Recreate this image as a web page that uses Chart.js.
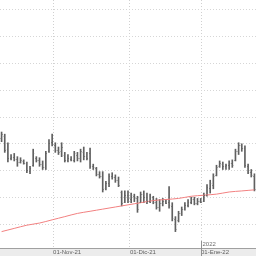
<!DOCTYPE html>
<html>
<head>
<meta charset="utf-8">
<script src="https://cdn.jsdelivr.net/npm/chart.js@4/dist/chart.umd.min.js"></script>
<style>
  html, body { margin: 0; padding: 0; background: #fff; }
  canvas { display: block; }
</style>
</head>
<body>
<canvas id="ohlcCanvas" width="256" height="256"></canvas>
<script>
// daily bars, oldest first (one entry per session)
const highs = [9.86, 9.84, 9.76, 9.65, 9.66, 9.63, 9.62, 9.60, 9.58, 9.54,
  9.70, 9.63, 9.62, 9.59, 9.68, 9.79, 9.84, 9.76, 9.72, 9.76,
  9.67, 9.65, 9.63, 9.68, 9.67, 9.70, 9.72, 9.67, 9.71, 9.56,
  9.53, 9.49, 9.49, 9.40, 9.47, 9.48, 9.46, 9.44, 9.31, 9.31,
  9.31, 9.29, 9.28, 9.26, 9.30, 9.31, 9.29, 9.28, 9.26, 9.24,
  9.23, 9.24, 9.23, 9.35, 9.20, 9.07, 9.12, 9.16, 9.20, 9.23,
  9.25, 9.25, 9.24, 9.24, 9.29, 9.37, 9.41, 9.47, 9.55, 9.59,
  9.58, 9.56, 9.59, 9.60, 9.70, 9.76, 9.75, 9.73, 9.56, 9.51, 9.47];
const lows = [9.77, 9.67, 9.58, 9.60, 9.59, 9.54, 9.57, 9.56, 9.48, 9.47,
  9.54, 9.58, 9.54, 9.51, 9.51, 9.67, 9.73, 9.67, 9.65, 9.63,
  9.58, 9.58, 9.59, 9.58, 9.59, 9.58, 9.60, 9.60, 9.52, 9.51,
  9.45, 9.43, 9.30, 9.32, 9.35, 9.42, 9.39, 9.35, 9.17, 9.20,
  9.20, 9.20, 9.21, 9.11, 9.20, 9.20, 9.19, 9.20, 9.19, 9.14,
  9.12, 9.17, 9.19, 9.15, 9.03, 8.93, 9.02, 9.08, 9.13, 9.16,
  9.19, 9.18, 9.18, 9.20, 9.21, 9.26, 9.29, 9.33, 9.45, 9.53,
  9.51, 9.51, 9.51, 9.53, 9.59, 9.65, 9.68, 9.53, 9.47, 9.44, 9.31];
const opens = [9.80, 9.82, 9.70, 9.62, 9.63, 9.61, 9.58, 9.59, 9.57, 9.50,
  9.55, 9.62, 9.60, 9.56, 9.53, 9.68, 9.77, 9.74, 9.69, 9.68,
  9.65, 9.60, 9.61, 9.60, 9.65, 9.62, 9.67, 9.64, 9.66, 9.54,
  9.52, 9.47, 9.45, 9.34, 9.38, 9.45, 9.44, 9.41, 9.30, 9.21,
  9.27, 9.23, 9.26, 9.24, 9.21, 9.28, 9.25, 9.22, 9.25, 9.21,
  9.16, 9.20, 9.22, 9.21, 9.17, 9.05, 9.04, 9.10, 9.14, 9.18,
  9.21, 9.23, 9.20, 9.22, 9.22, 9.27, 9.34, 9.37, 9.46, 9.54,
  9.56, 9.54, 9.55, 9.57, 9.60, 9.68, 9.74, 9.71, 9.54, 9.49, 9.45];
const closes = [9.84, 9.69, 9.62, 9.63, 9.61, 9.58, 9.60, 9.57, 9.51, 9.52,
  9.66, 9.60, 9.56, 9.53, 9.66, 9.76, 9.75, 9.69, 9.67, 9.72,
  9.60, 9.62, 9.60, 9.66, 9.62, 9.68, 9.64, 9.62, 9.54, 9.53,
  9.47, 9.45, 9.33, 9.38, 9.45, 9.44, 9.41, 9.37, 9.20, 9.27,
  9.23, 9.27, 9.24, 9.14, 9.28, 9.25, 9.22, 9.25, 9.21, 9.16,
  9.20, 9.22, 9.20, 9.18, 9.06, 8.95, 9.10, 9.14, 9.18, 9.21,
  9.23, 9.20, 9.22, 9.21, 9.27, 9.35, 9.38, 9.45, 9.53, 9.57,
  9.54, 9.55, 9.57, 9.55, 9.68, 9.74, 9.71, 9.55, 9.49, 9.46, 9.33];

// moving average (red), read every 4th session
const maSessions = [0, 4, 8, 12, 16, 20, 24, 28, 32, 36, 40, 44, 48, 52, 56, 60, 64, 68, 72, 76, 80];
const maValues = [8.93, 8.96, 8.99, 9.01, 9.04, 9.07, 9.10, 9.12, 9.14, 9.16, 9.18,
  9.20, 9.22, 9.23, 9.24, 9.26, 9.27, 9.28, 9.30, 9.31, 9.32];

// month marks on the time axis (session position, text)
const monthTickPos = [16.3, 40.6, 63.1];
const monthTickLabels = ['01-Nov-21', '01-Dic-21', '01-Ene-22'];
const yearMark = {pos: 63.1, text: '2022'};

const priceGrid = [9.00, 9.25, 9.50, 9.75, 10.00, 10.25, 10.50, 10.75, 11.00];

const barData = highs.map((h, i) => ({x: i, y: [lows[i], h]}));
const maData = maSessions.map((s, i) => ({x: s, y: maValues[i]}));

// grey band under the time axis
const axisBand = {
  id: 'axisBand',
  beforeDraw(chart) {
    const ctx = chart.ctx;
    const area = chart.chartArea;
    ctx.save();
    ctx.fillStyle = '#ececec';
    ctx.fillRect(0, area.bottom, chart.width, chart.height - area.bottom);
    ctx.restore();
  }
};

// open tick to the left, close tick to the right of every bar
const ohlcTicks = {
  id: 'ohlcTicks',
  afterDatasetsDraw(chart) {
    const ctx = chart.ctx;
    const xs = chart.scales.x;
    const ys = chart.scales.y;
    ctx.save();
    ctx.strokeStyle = '#6a6a6a';
    ctx.lineWidth = 1;
    for (let i = 0; i < highs.length; i++) {
      const x = xs.getPixelForValue(i);
      const yo = Math.round(ys.getPixelForValue(opens[i])) + 0.5;
      const yc = Math.round(ys.getPixelForValue(closes[i])) + 0.5;
      ctx.beginPath();
      ctx.moveTo(x - 1, yo); ctx.lineTo(x, yo);
      ctx.moveTo(x, yc); ctx.lineTo(x + 1, yc);
      ctx.stroke();
    }
    ctx.restore();
  }
};

// year text sitting just above the axis, with its longer tick
const yearLabel = {
  id: 'yearLabel',
  afterDraw(chart) {
    const ctx = chart.ctx;
    const area = chart.chartArea;
    const x = Math.round(chart.scales.x.getPixelForValue(yearMark.pos)) + 0.5;
    ctx.save();
    ctx.strokeStyle = '#909090';
    ctx.beginPath();
    ctx.moveTo(x, area.bottom - 7);
    ctx.lineTo(x, chart.height);
    ctx.stroke();
    ctx.fillStyle = '#707070';
    ctx.font = '6px "Liberation Sans Narrow", "Liberation Sans", sans-serif';
    ctx.textAlign = 'left';
    ctx.textBaseline = 'bottom';
    ctx.fillText(yearMark.text, x + 1, area.bottom - 1);
    ctx.restore();
  }
};

const ctx = document.getElementById('ohlcCanvas').getContext('2d');
const chart = new Chart(ctx, {
  data: {
    datasets: [
      {
        type: 'line',
        data: maData,
        borderColor: '#f28080',
        borderWidth: 1,
        pointRadius: 0,
        tension: 0.3,
        order: 0,
      },
      {
        type: 'bar',
        data: barData,
        backgroundColor: '#606060',
        borderWidth: 0,
        barThickness: 1,
        order: 1,
      },
    ],
  },
  options: {
    responsive: false,
    animation: false,
    layout: {padding: 0},
    plugins: {
      legend: {display: false},
      tooltip: {enabled: false},
    },
    scales: {
      x: {
        type: 'linear',
        offset: false,
        min: -0.5,
        max: highs.length - 0.5,
        afterBuildTicks: (scale) => {
          scale.ticks = monthTickPos.map(v => ({value: v}));
        },
        afterFit: (scale) => {
          scale.paddingLeft = 0;
          scale.paddingRight = 0;
        },
        ticks: {
          callback: (value, index) => monthTickLabels[index],
          align: 'start',
          maxRotation: 0,
          autoSkip: false,
          padding: 1,
          color: '#606060',
          font: {size: 6, family: '"Liberation Sans Narrow", "Liberation Sans", sans-serif', lineHeight: 1},
        },
        grid: {color: '#d0d0d0', drawTicks: false, offset: false},
        border: {display: true, color: '#a0a0a0', dash: [1, 2]},
      },
      y: {
        min: 8.777,
        max: 11.093,
        afterBuildTicks: (scale) => {
          scale.ticks = priceGrid.map(v => ({value: v}));
        },
        afterFit: (scale) => {
          scale.width = 0;
        },
        ticks: {display: false},
        grid: {color: '#d6d6d6', drawTicks: false},
        border: {display: false, dash: [1, 2]},
      },
    },
  },
  plugins: [axisBand, ohlcTicks, yearLabel],
});
</script>
</body>
</html>
